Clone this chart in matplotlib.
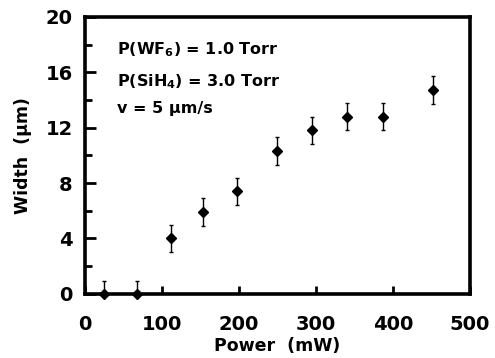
import numpy as np
import matplotlib.pyplot as plt
from matplotlib.ticker import MultipleLocator

plt.rcParams['font.family'] = ['DejaVu Sans']
plt.rcParams['font.weight'] = 'bold'
plt.rcParams['mathtext.fontset'] = 'custom'
plt.rcParams['mathtext.rm'] = 'DejaVu Sans:bold'
plt.rcParams['mathtext.it'] = 'DejaVu Sans:bold'
plt.rcParams['mathtext.bf'] = 'DejaVu Sans:bold'

# data
power = [25, 67, 112, 153, 197, 250, 295, 341, 387, 452]
width = [0, 0, 4.0, 5.9, 7.4, 10.3, 11.8, 12.8, 12.8, 14.7]
err = [0.95, 0.95, 1.0, 1.0, 1.0, 1.0, 1.0, 1.0, 1.0, 1.0]

fig = plt.figure(figsize=(4.95, 3.58), dpi=100)
ax = fig.add_axes([0.172, 0.179, 0.777, 0.774])

# error bars clipped at the axis, markers drawn on top unclipped
ax.errorbar(power, width, yerr=err, fmt='none', ecolor='black',
            elinewidth=1, capsize=1.5, capthick=1)
ax.plot(power, width, 'D', color='black', ms=5.5, clip_on=False, zorder=5)

ax.set_xlim(0, 500)
ax.set_ylim(0, 20)
ax.xaxis.set_major_locator(MultipleLocator(100))
ax.yaxis.set_major_locator(MultipleLocator(4))
ax.yaxis.set_minor_locator(MultipleLocator(2))
ax.tick_params(which='both', direction='in', width=2, top=False, right=False,
               labelsize=14)
ax.tick_params(axis='x', which='major', length=6, pad=15)
ax.tick_params(axis='y', which='major', length=8, pad=9)
ax.tick_params(which='minor', length=5)
for s in ax.spines.values():
    s.set_linewidth(2.6)

ax.set_xlabel('Power  (mW)', fontsize=12.5, fontweight='bold', labelpad=2)
ax.set_ylabel('Width  (µm)', fontsize=12.5, fontweight='bold', labelpad=10)

ax.text(0.083, 0.866, 'P(WF$_6$) = 1.0 Torr', transform=ax.transAxes,
        fontsize=11.5, fontweight='bold', va='baseline')
ax.text(0.083, 0.751, 'P(SiH$_4$) = 3.0 Torr', transform=ax.transAxes,
        fontsize=11.5, fontweight='bold', va='baseline')
ax.text(0.083, 0.653, 'v = 5 µm/s', transform=ax.transAxes,
        fontsize=11.5, fontweight='bold', va='baseline')

fig.savefig('out.png', dpi=100)
